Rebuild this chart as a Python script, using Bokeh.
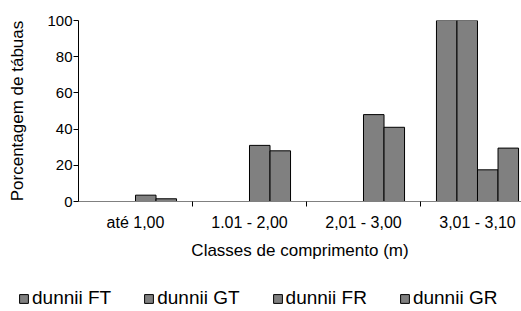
from bokeh.plotting import figure
from bokeh.models import Range1d, FixedTicker, Legend, LegendItem, ColumnDataSource
from bokeh.transform import dodge
from bokeh.layouts import column
from bokeh.embed import file_html
from bokeh.resources import INLINE

categories = ["até 1,00", "1.01 - 2,00", "2,01 - 3,00", "3,01 - 3,10"]
series_names = ["dunnii FT", "dunnii GT", "dunnii FR", "dunnii GR"]
dunnii_ft = [0, 0, 0, 100]
dunnii_gt = [0, 0, 0, 100]
dunnii_fr = [3.5, 31, 48, 17.5]
dunnii_gr = [1.5, 28, 41, 29.5]
y_ticks = [0, 20, 40, 60, 80, 100]

FONT = "Liberation Sans"
BAR_FILL = "#808080"
centers = [i + 0.5 for i in range(len(categories))]

p = figure(width=521, height=272, output_backend="svg", toolbar_location=None,
           x_range=Range1d(0, 3.886), y_range=Range1d(0, 100),
           min_border_left=78, min_border_right=0, min_border_top=20,
           min_border_bottom=71)
p.frame_align = False
p.outline_line_color = None
p.xgrid.visible = False
p.ygrid.visible = False

# legend strip (second figure below the chart)
p2 = figure(width=521, height=38, output_backend="svg", toolbar_location=None,
            x_range=Range1d(0, 1), y_range=Range1d(-10, -9),
            x_axis_location=None, y_axis_location=None,
            min_border_left=0, min_border_right=0, min_border_top=0, min_border_bottom=0)
p2.frame_align = False
p2.outline_line_color = None
p2.xgrid.visible = False
p2.ygrid.visible = False

offsets = [-0.27, -0.09, 0.09, 0.27]
items = []
for name, vals, off in zip(series_names, [dunnii_ft, dunnii_gt, dunnii_fr, dunnii_gr], offsets):
    xs = [c for c, v in zip(centers, vals) if v != 0]
    ys = [v for v in vals if v != 0]
    src = ColumnDataSource(dict(x=xs, top=ys))
    p.vbar(x=dodge("x", off), top="top", bottom=0, width=0.18, source=src,
           fill_color=BAR_FILL, line_color="#000000", line_width=1)
    proxy = p2.vbar(x="x", top="top", bottom=0, width=0.18, source=src,
                    fill_color=BAR_FILL, line_color="#000000", line_width=1, visible=False)
    items.append(LegendItem(label=name, renderers=[proxy]))

# x axis
xa = p.xaxis[0]
xa.ticker = FixedTicker(ticks=centers, minor_ticks=[1, 2, 3])
xa.major_label_overrides = {c: lab for c, lab in zip(centers, categories)}
xa.major_tick_out = 0
xa.major_tick_in = 0
xa.minor_tick_out = 5
xa.minor_tick_in = 0
xa.minor_tick_line_color = "#000000"
xa.axis_line_color = "#808080"
xa.major_label_standoff = 7
xa.major_label_text_font = FONT
xa.major_label_text_font_size = "16px"
xa.major_label_text_color = "#000000"
xa.axis_label = "Classes de comprimento (m)"
xa.axis_label_text_font = FONT
xa.axis_label_text_font_size = "17px"
xa.axis_label_text_font_style = "normal"
xa.axis_label_text_color = "#000000"
xa.axis_label_standoff = 7

# y axis
ya = p.yaxis[0]
ya.ticker = FixedTicker(ticks=y_ticks)
ya.major_tick_out = 5
ya.major_tick_in = 0
ya.minor_tick_line_color = None
ya.axis_line_color = "#000000"
ya.major_label_standoff = 1
ya.major_label_text_font = FONT
ya.major_label_text_font_size = "15px"
ya.major_label_text_color = "#000000"
ya.axis_label = "Porcentagem de tábuas"
ya.axis_label_text_font = FONT
ya.axis_label_text_font_size = "17px"
ya.axis_label_text_font_style = "normal"
ya.axis_label_text_color = "#000000"
ya.axis_label_standoff = 17

legend = Legend(items=items, orientation="horizontal", location=(18, 1),
                glyph_width=11, glyph_height=11, label_standoff=3, spacing=32,
                padding=0, margin=0, border_line_color=None, background_fill_alpha=0,
                label_text_font=FONT, label_text_font_size="19px",
                label_text_color="#000000", label_height=14)
p2.add_layout(legend, "center")

layout = column(p, p2, spacing=0)
open("out.html", "w").write(file_html(layout, INLINE))
